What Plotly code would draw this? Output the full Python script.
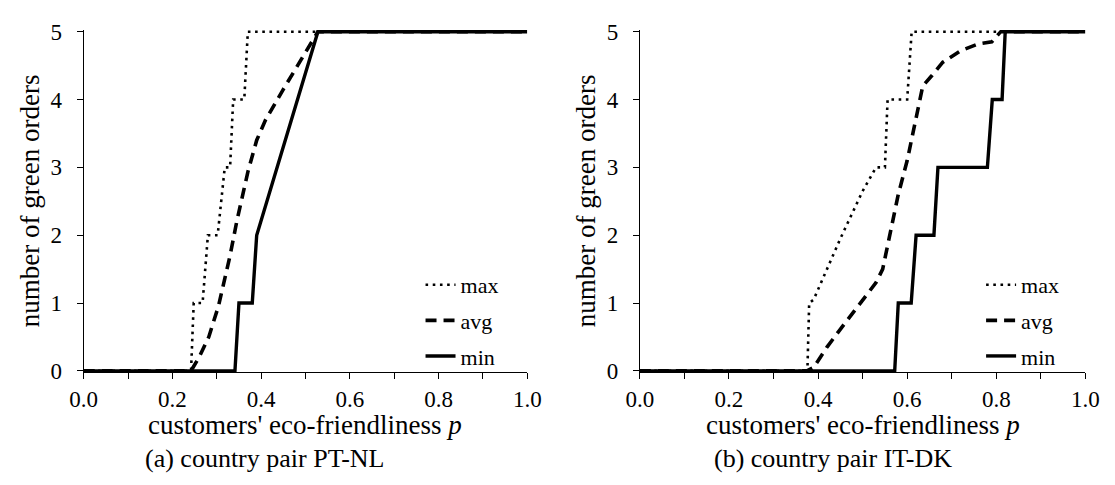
import plotly.graph_objects as go

# ---- data: number of green orders vs customers' eco-friendliness p ----
# (a) country pair PT-NL
pt_max_p = [0.0, 0.242, 0.248, 0.268, 0.280, 0.302, 0.318, 0.330, 0.337, 0.362, 0.370, 1.0]
pt_max_n = [0, 0, 1, 1, 2, 2, 3, 3, 4, 4, 5, 5]
pt_avg_p = [0.0, 0.242, 0.26, 0.282, 0.304, 0.33, 0.345, 0.352, 0.37, 0.39, 0.41, 0.45, 0.50, 0.528, 1.0]
pt_avg_n = [0, 0, 0.2, 0.5, 0.96, 1.7, 2.2, 2.4, 2.93, 3.4, 3.7, 4.15, 4.7, 5, 5]
pt_min_p = [0.0, 0.341, 0.35, 0.38, 0.39, 0.528, 1.0]
pt_min_n = [0, 0, 1, 1, 2, 5, 5]

# (b) country pair IT-DK
it_max_p = [0.0, 0.376, 0.38, 0.39, 0.45, 0.50, 0.53, 0.55, 0.556, 0.60, 0.61, 1.0]
it_max_n = [0, 0, 1, 1.05, 1.95, 2.65, 3, 3, 4, 4, 5, 5]
it_avg_p = [0.0, 0.375, 0.39, 0.42, 0.46, 0.50, 0.53, 0.545, 0.56, 0.58, 0.60, 0.62, 0.635,
            0.655, 0.68, 0.72, 0.76, 0.79, 0.81, 1.0]
it_avg_n = [0, 0, 0.05, 0.35, 0.7, 1.05, 1.3, 1.5, 2.0, 2.6, 3.1, 3.75, 4.2,
            4.35, 4.55, 4.72, 4.82, 4.85, 5, 5]
it_min_p = [0.0, 0.572, 0.58, 0.609, 0.62, 0.66, 0.669, 0.78, 0.791, 0.813, 0.82, 1.0]
it_min_n = [0, 0, 1, 1, 2, 2, 3, 3, 4, 4, 5, 5]

x_ticks = [0.0, 0.2, 0.4, 0.6, 0.8, 1.0]
x_tick_text = ["0.0", "0.2", "0.4", "0.6", "0.8", "1.0"]
y_ticks = [0, 1, 2, 3, 4, 5]
series_names = ["max", "avg", "min"]
x_title = "customers' eco-friendliness <i>p</i>"
y_title = "number of green orders"
captions = ["(a) country pair PT-NL", "(b) country pair IT-DK"]

# ---- page geometry (pixels) ----
W, H = 1115, 485
FONT = "Liberation Serif"
y_lo, y_hi = -0.02, 5.03
px_per_unit = (378 - 22.7) / 5
bottom_px = 378 + (0 - y_lo) * px_per_unit
top_px = 22.7 - (y_hi - 5) * px_per_unit
y_dom = [1 - bottom_px / H, 1 - top_px / H]
x_px = [(71.5, 526.5), (642, 1099)]
x_doms = [[a / W, b / W] for a, b in x_px]

styles = {
    "max": dict(color="black", width=2.6, dash="2.6px,4.6px"),
    "avg": dict(color="black", width=3.6, dash="11px,7px"),
    "min": dict(color="black", width=3.4),
}

panels = [
    (pt_max_p, pt_max_n, pt_avg_p, pt_avg_n, pt_min_p, pt_min_n),
    (it_max_p, it_max_n, it_avg_p, it_avg_n, it_min_p, it_min_n),
]

fig = go.Figure()
for i, (mx_p, mx_n, av_p, av_n, mn_p, mn_n) in enumerate(panels):
    suffix = "" if i == 0 else "2"
    legend_name = "legend" if i == 0 else "legend2"
    for name, px, ny in zip(series_names, [mx_p, av_p, mn_p], [mx_n, av_n, mn_n]):
        fig.add_trace(go.Scatter(
            x=px, y=ny, mode="lines", name=name, line=styles[name],
            xaxis="x" + suffix, yaxis="y" + suffix, legend=legend_name,
            legendgroup=f"{name}{i}", hoverinfo="skip",
        ))

axis_font = dict(family=FONT, size=23, color="black")
title_font = dict(family=FONT, size=27, color="black")

common_x = dict(
    range=[0, 1], tickvals=x_ticks, ticktext=x_tick_text, ticks="outside",
    ticklen=6, tickwidth=1, tickcolor="black", showline=True, linecolor="black",
    linewidth=1, showgrid=False, zeroline=False, tickfont=axis_font,
    ticklabelstandoff=0,
    minor=dict(dtick=0.1, tick0=0, ticks="outside", ticklen=6, tickwidth=1,
               tickcolor="black", showgrid=False),
)
common_y = dict(
    range=[y_lo, y_hi], tickvals=y_ticks, ticks="outside", ticklen=6, tickwidth=1,
    tickcolor="black", showline=True, linecolor="black", linewidth=1,
    showgrid=False, zeroline=False, tickfont=axis_font, ticklabelstandoff=10,
    title=dict(text=y_title, font=title_font, standoff=3),
)

legend_common = dict(
    bgcolor="rgba(0,0,0,0)", borderwidth=0, font=dict(family=FONT, size=22, color="black"),
    xanchor="left", yanchor="top", traceorder="grouped", itemwidth=30,
    tracegroupgap=4,
)

fig.update_layout(
    width=W, height=H, margin=dict(l=0, r=0, t=0, b=0),
    paper_bgcolor="white", plot_bgcolor="white", showlegend=True,
    xaxis=dict(domain=x_doms[0], anchor="y", **common_x),
    yaxis=dict(domain=y_dom, anchor="x", **common_y),
    xaxis2=dict(domain=x_doms[1], anchor="y2", **common_x),
    yaxis2=dict(domain=y_dom, anchor="x2", **common_y),
    legend=dict(x=417 / W, y=1 - 266 / H, **legend_common),
    legend2=dict(x=992 / W, y=1 - 266 / H, **legend_common),
)

# x-axis titles sit tight under the tick labels
for a, b in x_px:
    fig.add_annotation(
        x=(a + b) / 2 / W, y=1 - 435 / H, xref="paper", yref="paper", text=x_title,
        showarrow=False, xanchor="center", yanchor="middle", font=title_font,
    )

# subfigure captions
for cx, text in zip([257 / W, 840 / W], captions):
    fig.add_annotation(
        x=cx, y=1 - 470 / H, xref="paper", yref="paper", text=text,
        showarrow=False, xanchor="center", yanchor="middle",
        font=dict(family=FONT, size=26, color="black"),
    )

fig.write_html("out.html")
